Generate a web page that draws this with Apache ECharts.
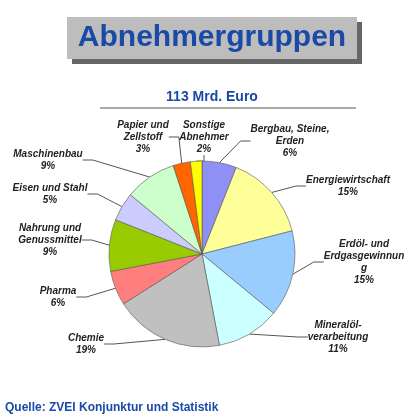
<!DOCTYPE html><html><head><meta charset="utf-8"><script src="https://cdn.jsdelivr.net/npm/echarts@6/dist/echarts.min.js"></script>
<style>html,body{margin:0;background:#fff}#c{width:420px;height:420px}</style></head><body><div id="c"></div><script>
var categories=['Bergbau, Steine,\nErden','Energiewirtschaft','Erdöl- und\nErdgasgewinnun\ng','Mineralöl-\nverarbeitung','Chemie','Pharma','Nahrung und\nGenussmittel','Eisen und Stahl','Maschinenbau','Papier und\nZellstoff','Sonstige\nAbnehmer'];
var values=[6,15,15,11,19,6,9,5,9,3,2];
var colors=['#8f8ff5','#ffff99','#99ccff','#ccffff','#c0c0c0','#ff7f7f','#99cc00','#ccccff','#ccffcc','#ff6600','#ffff00'];
var labelPos=[[290,141],[348,186],[364,262],[338,337],[86,344],[58,297],[50,240],[50,194],[48,160],[143,137],[204,137]];
var ch=echarts.init(document.getElementById('c'));
ch.setOption({
 animation:false,
 graphic:[
  {type:'rect',shape:{x:72,y:22,width:290,height:42},style:{fill:'#666'}},
  {type:'rect',shape:{x:67,y:17,width:290,height:42},style:{fill:'#bdbdbd'}},
  {type:'text',x:212,y:38,style:{text:'Abnehmergruppen',fill:'#1a4aa8',font:'bold 30px Liberation Sans',align:'center',verticalAlign:'middle'}},
  {type:'text',x:212,y:97,style:{text:'113 Mrd. Euro',fill:'#1a4aa8',font:'bold 14px Liberation Sans',align:'center',verticalAlign:'middle'}},
  {type:'line',shape:{x1:100,y1:108,x2:356,y2:108},style:{stroke:'#555',lineWidth:1}},
  {type:'text',x:5,y:408,style:{text:'Quelle: ZVEI Konjunktur und Statistik',fill:'#1a4aa8',font:'bold 12px Liberation Sans',verticalAlign:'middle'}}
 ],
 series:[{type:'pie',center:[202,254],radius:93,startAngle:90,clockwise:true,
  data:categories.map(function(n,i){return {name:n,value:values[i],itemStyle:{color:colors[i]}};}),
  itemStyle:{borderColor:'#555',borderWidth:0.6},
  label:{formatter:function(p){return p.name+'\n'+p.value+'%';},color:'#222',fontStyle:'italic',fontWeight:'bold',fontSize:10,fontFamily:'Liberation Sans',lineHeight:12,align:'center'},
  labelLine:{length:8,length2:10,lineStyle:{color:'#555'}},
  labelLayout:function(p){var q=labelPos[p.dataIndex];return {x:q[0],y:q[1],align:'center',verticalAlign:'middle'};}
 }]
});
</script></body></html>
